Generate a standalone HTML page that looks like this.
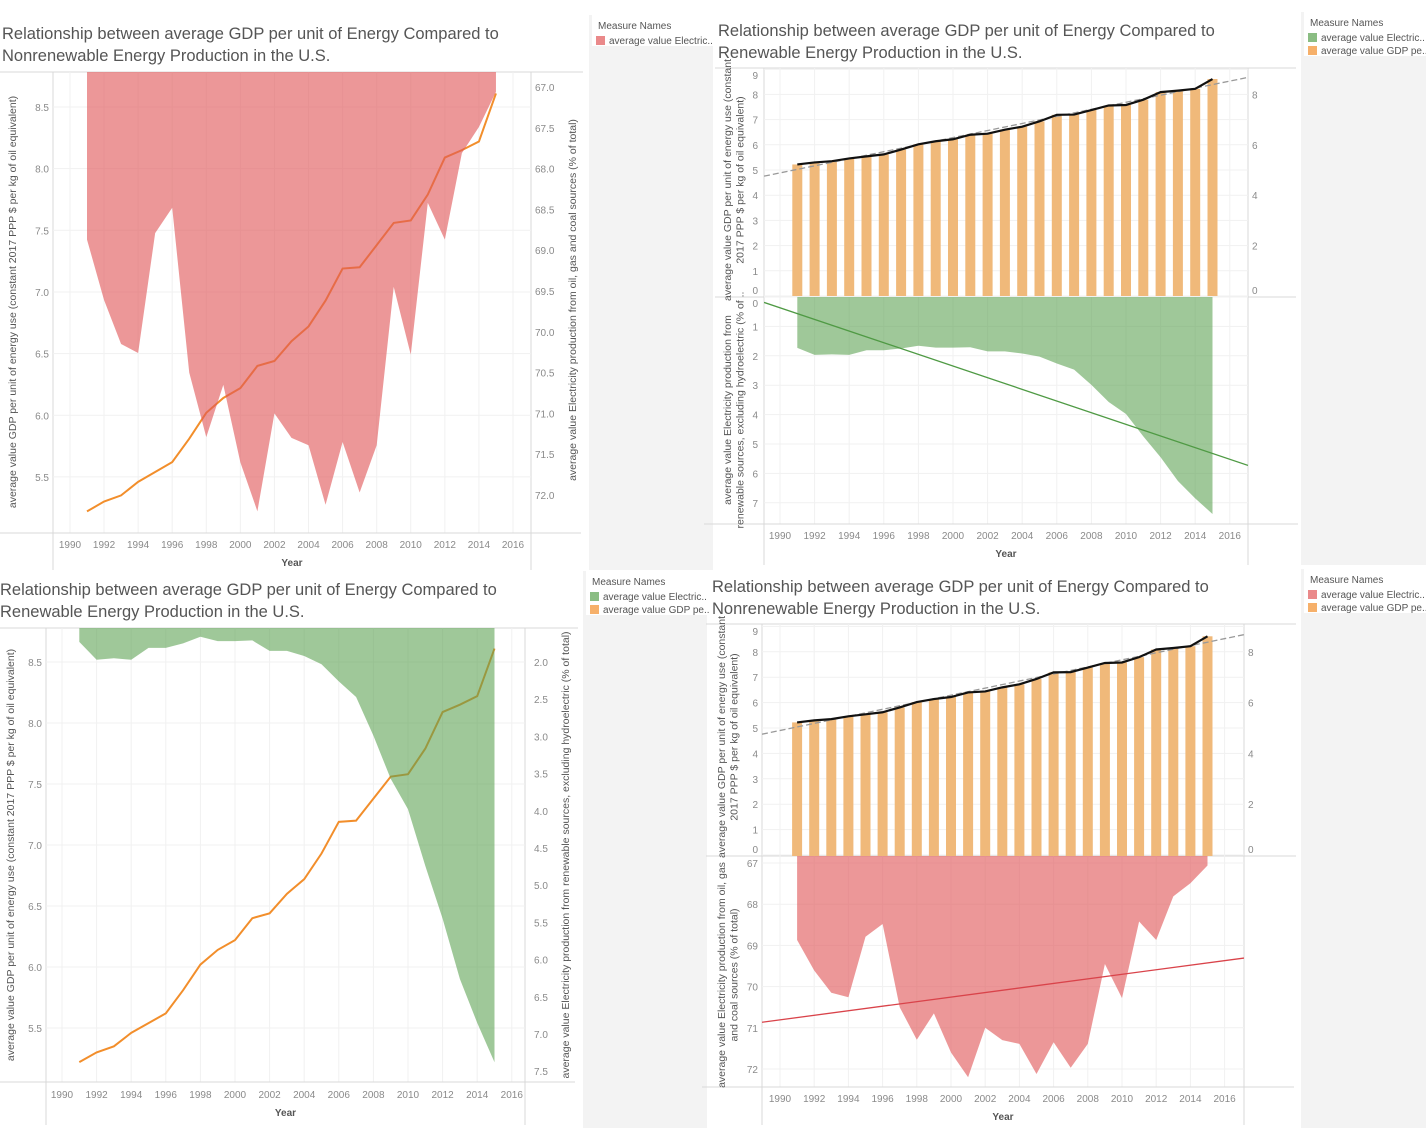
<!DOCTYPE html>
<html><head><meta charset="utf-8">
<style>
html,body{margin:0;padding:0;background:#fff;}
svg{display:block;font-family:"Liberation Sans",sans-serif;}
</style></head>
<body>
<svg id="c" width="1426" height="1128" viewBox="0 0 1426 1128" xmlns="http://www.w3.org/2000/svg"></svg>
<script>
const years = [1991,1992,1993,1994,1995,1996,1997,1998,1999,2000,2001,2002,2003,2004,2005,2006,2007,2008,2009,2010,2011,2012,2013,2014,2015];
const gdp = [5.22,5.30,5.35,5.46,5.54,5.62,5.81,6.02,6.14,6.22,6.40,6.44,6.60,6.72,6.93,7.19,7.20,7.38,7.56,7.58,7.79,8.09,8.15,8.22,8.61];
const nonrenew = [68.87,69.61,70.15,70.26,68.79,68.48,70.50,71.29,70.65,71.60,72.20,71.00,71.30,71.39,72.12,71.35,71.97,71.39,69.45,70.28,68.42,68.87,67.81,67.49,67.06];
const renew = [1.73,1.97,1.95,1.97,1.81,1.81,1.75,1.66,1.72,1.72,1.71,1.85,1.85,1.92,2.03,2.26,2.47,2.99,3.57,3.98,4.74,5.45,6.26,6.85,7.38];
const yearTicks = [1990,1992,1994,1996,1998,2000,2002,2004,2006,2008,2010,2012,2014,2016];
const gdpTicksA = [5.5,6.0,6.5,7.0,7.5,8.0,8.5];
const nonTicksA = [67.0,67.5,68.0,68.5,69.0,69.5,70.0,70.5,71.0,71.5,72.0];
const renTicksA = [2.0,2.5,3.0,3.5,4.0,4.5,5.0,5.5,6.0,6.5,7.0,7.5];
const gdpTicksB = [0,1,2,3,4,5,6,7,8,9];
const gdpTicksR = [0,2,4,6,8];
const renTicksB = [0,1,2,3,4,5,6,7];
const nonTicksB = [67,68,69,70,71,72];

const NS='http://www.w3.org/2000/svg';
const svg=document.getElementById('c');
function el(tag,attrs,parent,txt){const e=document.createElementNS(NS,tag);for(const k in attrs)e.setAttribute(k,attrs[k]);if(txt!==undefined)e.textContent=txt;(parent||svg).appendChild(e);return e;}
function fmt(v,d){return v.toFixed(d);}
function reg(xs,ys){const n=xs.length;let mx=0,my=0;for(let i=0;i<n;i++){mx+=xs[i];my+=ys[i];}mx/=n;my/=n;let a=0,b=0;for(let i=0;i<n;i++){a+=(xs[i]-mx)*(ys[i]-my);b+=(xs[i]-mx)**2;}const s=a/b;return x=>my+s*(x-mx);}
const RED='#e15759',ORG='#f28e2b',GRN='#59a14f',BAR='#f0b97a';
const LINE='#d9d9d9',GRID='#f1f1f1',TXT='#8a8a8a',TITLE='#555';
let clipN=0;
function clip(x0,y0,x1,y1){const id='cl'+(clipN++);const cp=el('clipPath',{id:id});el('rect',{x:x0,y:y0,width:x1-x0,height:y1-y0},cp);return 'url(#'+id+')';}
function title(x,y,l1,l2,name){const t=el('text',{x:x,y:y,'font-size':16.5,fill:TITLE});el('tspan',{x:x,dy:0},t,l1);el('tspan',{x:x,dy:22},t,l2);}
function vtitle(cx,cy,lines,name){const g=el('text',{transform:`translate(${cx},${cy}) rotate(-90)`,'font-size':10.5,fill:'#555','text-anchor':'middle'});lines.forEach((l,i)=>el('tspan',{x:0,dy:i?12.5:0},g,l));}
function legend(x,y,w,h,items,name){const g=el('g',{});
 el('rect',{x:x,y:y,width:w,height:h,fill:'#f3f3f3'},g);el('rect',{x:x+3,y:y,width:w-3,height:18+items.length*13,fill:'#fff'},g);
 el('text',{x:x+9,y:y+14,'font-size':10,fill:'#555'},g,'Measure Names');
 items.forEach((it,i)=>{const e=el('g',{},g);el('rect',{x:x+7,y:y+21+i*13,width:9,height:9,fill:it[0],opacity:0.7},e);el('text',{x:x+20,y:y+29+i*13,'font-size':10,fill:'#555'},e,it[1]);});}
function xaxis(X,x0,x1,yb,ylab,yYear,ylow){
 el('line',{x1:0+x0-60,x2:x1+50,y1:yb,y2:yb,stroke:LINE});
 const g=el('g',{});
 yearTicks.forEach(t=>el('text',{x:X(t),y:ylab,'font-size':10,fill:TXT,'text-anchor':'middle'},g,t));
 const yt=el('text',{x:(x0+x1)/2,y:yYear,'font-size':10,fill:'#555','text-anchor':'middle','font-weight':'bold'},null,'Year');
}
function vgrid(X,y0,y1){yearTicks.forEach(t=>el('line',{x1:X(t),x2:X(t),y1:y0,y2:y1,stroke:GRID}));}
function areaPath(X,Y,vals,base){let d=`M${X(years[0])},${base}`;vals.forEach((v,i)=>d+=` L${X(years[i])},${Y(v)}`);d+=` L${X(years[years.length-1])},${base} Z`;return d;}
function linePath(X,Y,vals){return vals.map((v,i)=>(i?'L':'M')+X(years[i])+','+Y(v)).join(' ');}

/* ---------- Panel TL ---------- */
(function(){
 const x0=53,x1=531,y0=72,y1=533;
 const X=y=>87+(y-1991)*17.04, YL=v=>107+(8.5-v)*123.3, YR=v=>87+(v-67)*81.6;
 title(2,39,'Relationship between average GDP per unit of Energy Compared to','Nonrenewable Energy Production in the U.S.','chart-title-tl');
 el('line',{x1:0,x2:583,y1:y0,y2:y0,stroke:LINE});
 el('line',{x1:x0,x2:x0,y1:y0,y2:570,stroke:LINE});el('line',{x1:x1,x2:x1,y1:y0,y2:570,stroke:LINE});
 vgrid(X,y0,y1);gdpTicksA.forEach(t=>el('line',{x1:x0,x2:x1,y1:YL(t),y2:YL(t),stroke:GRID}));
 const cp=clip(x0,y0,x1,y1);
 const ln=el('path',{d:linePath(X,YL,gdp),fill:'none',stroke:ORG,'stroke-width':2,'clip-path':cp});
 const ar=el('path',{d:areaPath(X,YR,nonrenew,y0),fill:RED,opacity:0.62,'clip-path':cp});
 const gl=el('g',{});
 gdpTicksA.forEach(t=>el('text',{x:x0-4,y:YL(t)+4,'font-size':10,fill:TXT,'text-anchor':'end'},gl,fmt(t,1)));
 const gr=el('g',{});
 nonTicksA.forEach(t=>el('text',{x:x1+4,y:YR(t)+4,'font-size':10,fill:TXT},gr,fmt(t,1)));
 xaxis(X,x0,x1,y1,548,566);
 vtitle(16,302,['average value GDP per unit of energy use (constant 2017 PPP $ per kg of oil equivalent)'],'y-axis-title-left');
 vtitle(576,300,['average value Electricity production from oil, gas and coal sources (% of total)'],'y-axis-title-right');
 legend(589,15,124,555,[[RED,'average value Electric..']],'legend-tl');
})();

/* ---------- Panel TR ---------- */
(function(){
 const x0=764,x1=1248,y0=68,ym=297,y1=524;
 const X=y=>780+(y-1990)*17.3, YT=v=>296-v*25.2, YB=v=>297+v*29.4;
 title(718,36,'Relationship between average GDP per unit of Energy Compared to','Renewable Energy Production in the U.S.','chart-title-tr');
 el('line',{x1:715,x2:1296,y1:y0,y2:y0,stroke:LINE});el('line',{x1:715,x2:1296,y1:ym,y2:ym,stroke:LINE});
 el('line',{x1:x0,x2:x0,y1:y0,y2:565,stroke:LINE});el('line',{x1:x1,x2:x1,y1:y0,y2:565,stroke:LINE});
 vgrid(X,y0,y1);gdpTicksB.forEach(t=>el('line',{x1:x0,x2:x1,y1:YT(t),y2:YT(t),stroke:GRID}));renTicksB.forEach(t=>el('line',{x1:x0,x2:x1,y1:YB(t),y2:YB(t),stroke:GRID}));
 gdp.forEach((v,i)=>{const b=el('rect',{x:X(years[i])-5,y:YT(v),width:10,height:YT(0)-YT(v),fill:BAR});});
 const f=reg(years,gdp);const cp=clip(x0,y0,x1,ym);
 el('line',{x1:x0,x2:x1,y1:YT(f(1989.1)),y2:YT(f(2017.1)),stroke:'#999','stroke-width':1.3,'stroke-dasharray':'6,3','clip-path':cp});
 const ln=el('path',{d:linePath(X,YT,gdp),fill:'none',stroke:'#111','stroke-width':2.2});
 const ar=el('path',{d:areaPath(X,YB,renew,ym),fill:GRN,opacity:0.58});
 const g=reg(years,renew);const cp2=clip(x0,ym,x1,y1);
 const tl=el('line',{x1:x0,x2:x1,y1:YB(g(1989.1)),y2:YB(g(2017.1)),stroke:'#4f9a44','stroke-width':1.3,'clip-path':cp2});
 const gl=el('g',{});
 gdpTicksB.forEach(t=>el('text',{x:x0-6,y:Math.min(Math.max(YT(t),75),290)+4,'font-size':10,fill:TXT,'text-anchor':'end'},gl,t));
 renTicksB.forEach(t=>el('text',{x:x0-6,y:Math.max(YB(t),303)+4,'font-size':10,fill:TXT,'text-anchor':'end'},gl,t));
 const gr=el('g',{});
 gdpTicksR.forEach(t=>el('text',{x:x1+4,y:Math.min(YT(t),290)+4,'font-size':10,fill:TXT},gr,t));
 xaxis(X,x0,x1,y1,539,557);
 vtitle(731,180,['average value GDP per unit of energy use (constant','2017 PPP $ per kg of oil equivalent)'],'y-axis-title-top');
 vtitle(731,410,['average value Electricity production from','renewable sources, excluding hydroelectric (% of ..'],'y-axis-title-bottom');
 legend(1301,12,125,553,[[GRN,'average value Electric..'],[ORG,'average value GDP pe..']],'legend-tr');
})();

/* ---------- Panel BL ---------- */
(function(){
 const x0=46,x1=525,y0=628,y1=1082;
 const X=y=>62+(y-1990)*17.3, YL=v=>662+(8.5-v)*122, YR=v=>662+(v-2)*74.4;
 title(0,595,'Relationship between average GDP per unit of Energy Compared to','Renewable Energy Production in the U.S.','chart-title-bl');
 el('line',{x1:0,x2:578,y1:y0,y2:y0,stroke:LINE});
 el('line',{x1:x0,x2:x0,y1:y0,y2:1125,stroke:LINE});el('line',{x1:x1,x2:x1,y1:y0,y2:1125,stroke:LINE});
 vgrid(X,y0,y1);gdpTicksA.forEach(t=>el('line',{x1:x0,x2:x1,y1:YL(t),y2:YL(t),stroke:GRID}));
 const cp=clip(x0,y0,x1,y1);
 const ln=el('path',{d:linePath(X,YL,gdp),fill:'none',stroke:ORG,'stroke-width':2,'clip-path':cp});
 const ar=el('path',{d:areaPath(X,YR,renew,y0),fill:GRN,opacity:0.58,'clip-path':cp});
 const gl=el('g',{});
 gdpTicksA.forEach(t=>el('text',{x:x0-4,y:YL(t)+4,'font-size':10,fill:TXT,'text-anchor':'end'},gl,fmt(t,1)));
 const gr=el('g',{});
 renTicksA.forEach(t=>el('text',{x:x1+9,y:YR(t)+4,'font-size':10,fill:TXT},gr,fmt(t,1)));
 xaxis(X,x0,x1,y1,1098,1116);
 vtitle(14,855,['average value GDP per unit of energy use (constant 2017 PPP $ per kg of oil equivalent)'],'y-axis-title-left');
 vtitle(569,855,['average value Electricity production from renewable sources, excluding hydroelectric (% of total)'],'y-axis-title-right');
 legend(583,571,124,557,[[GRN,'average value Electric..'],[ORG,'average value GDP pe..']],'legend-bl');
})();

/* ---------- Panel BR ---------- */
(function(){
 const x0=762,x1=1244,y0=624,ym=856,y1=1087;
 const X=y=>780+(y-1990)*17.1, YT=v=>855-v*25.4, YB=v=>863+(v-67)*41.2;
 title(712,592,'Relationship between average GDP per unit of Energy Compared to','Nonrenewable Energy Production in the U.S.','chart-title-br');
 el('line',{x1:706,x2:1296,y1:y0,y2:y0,stroke:LINE});el('line',{x1:706,x2:1296,y1:ym,y2:ym,stroke:LINE});
 el('line',{x1:x0,x2:x0,y1:y0,y2:1125,stroke:LINE});el('line',{x1:x1,x2:x1,y1:y0,y2:1125,stroke:LINE});
 vgrid(X,y0,y1);gdpTicksB.forEach(t=>el('line',{x1:x0,x2:x1,y1:YT(t),y2:YT(t),stroke:GRID}));nonTicksB.forEach(t=>el('line',{x1:x0,x2:x1,y1:YB(t),y2:YB(t),stroke:GRID}));
 gdp.forEach((v,i)=>{const b=el('rect',{x:X(years[i])-5,y:YT(v),width:10,height:ym-YT(v),fill:BAR});});
 const f=reg(years,gdp);const cp=clip(x0,y0,x1,ym);
 el('line',{x1:x0,x2:x1,y1:YT(f(1989.1)),y2:YT(f(2017.1)),stroke:'#999','stroke-width':1.3,'stroke-dasharray':'6,3','clip-path':cp});
 const ln=el('path',{d:linePath(X,YT,gdp),fill:'none',stroke:'#111','stroke-width':2.2});
 const cp2=clip(x0,ym,x1,y1);
 const ar=el('path',{d:areaPath(X,YB,nonrenew,ym),fill:RED,opacity:0.62,'clip-path':cp2});
 const g=reg(years,nonrenew);
 const tl=el('line',{x1:x0,x2:x1,y1:YB(g(1989.1)),y2:YB(g(2017.1)),stroke:'#d9434a','stroke-width':1.3,'clip-path':cp2});
 const gl=el('g',{});
 gdpTicksB.forEach(t=>el('text',{x:x0-4,y:Math.min(Math.max(YT(t),631),849)+4,'font-size':10,fill:TXT,'text-anchor':'end'},gl,t));
 nonTicksB.forEach(t=>el('text',{x:x0-4,y:YB(t)+4,'font-size':10,fill:TXT,'text-anchor':'end'},gl,t));
 const gr=el('g',{});
 gdpTicksR.forEach(t=>el('text',{x:x1+4,y:Math.min(YT(t),849)+4,'font-size':10,fill:TXT},gr,t));
 xaxis(X,x0,x1,y1,1102,1120);
 vtitle(725,737,['average value GDP per unit of energy use (constant','2017 PPP $ per kg of oil equivalent)'],'y-axis-title-top');
 vtitle(725,975,['average value Electricity production from oil, gas','and coal sources (% of total)'],'y-axis-title-bottom');
 legend(1301,569,125,559,[[RED,'average value Electric..'],[ORG,'average value GDP pe..']],'legend-br');
})();
</script>
</body></html>
